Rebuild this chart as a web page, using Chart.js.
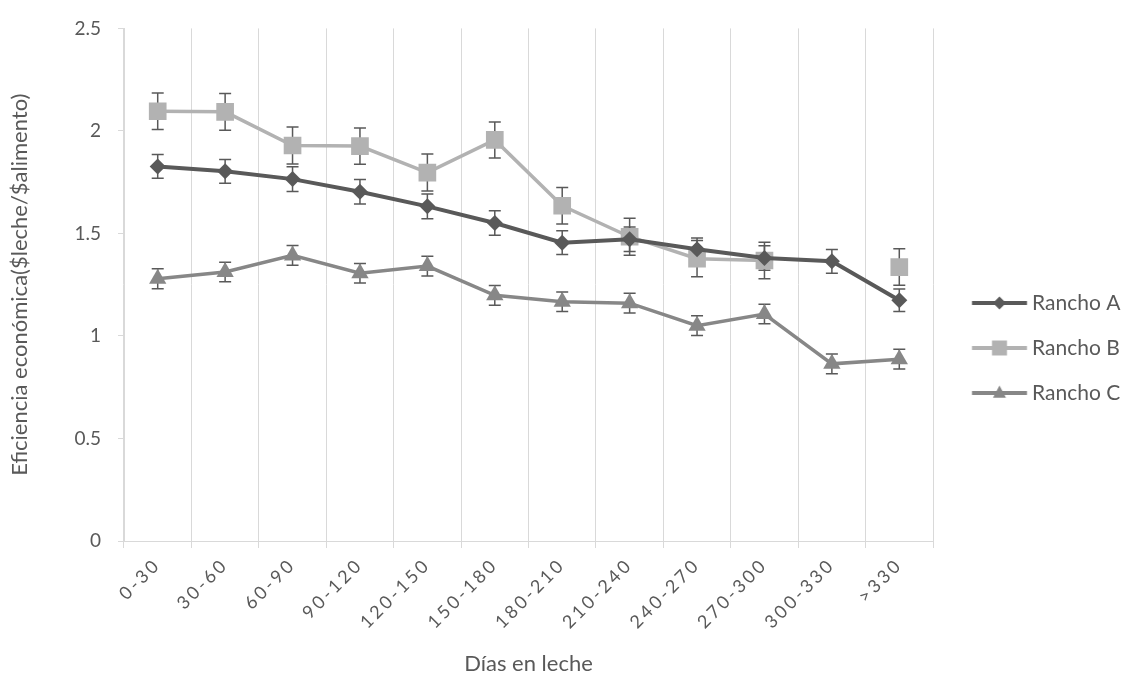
<!DOCTYPE html>
<html><head><meta charset="utf-8">
<script src="https://cdn.jsdelivr.net/npm/chart.js@4.4.0/dist/chart.umd.min.js"></script>
<style>html,body{margin:0;padding:0;background:#fff;}#wrap{width:1136px;height:688px;}</style>
</head><body><div id="wrap"><canvas id="c" width="1136" height="688"></canvas></div>
<script>
const categories = ['0-30','30-60','60-90','90-120','120-150','150-180','180-210','210-240','240-270','270-300','300-330','>330'];
const seriesNames = ['Rancho A','Rancho B','Rancho C'];
const ranchoA = [1.827, 1.803, 1.765, 1.703, 1.632, 1.551, 1.455, 1.472, 1.423, 1.380, 1.364, 1.174];
const ranchoB = [2.096, 2.093, 1.929, 1.926, 1.797, 1.956, 1.635, 1.484, 1.377, 1.368, null, 1.336];
const ranchoC = [1.279, 1.312, 1.393, 1.306, 1.341, 1.198, 1.167, 1.160, 1.050, 1.107, 0.864, 0.887];
const ranchoAErr = [0.058, 0.058, 0.060, 0.060, 0.060, 0.060, 0.058, 0.060, 0.055, 0.060, 0.058, 0.055];
const ranchoBErr = [0.089, 0.090, 0.090, 0.088, 0.090, 0.088, 0.089, 0.090, 0.088, 0.089, 0, 0.089];
const ranchoCErr = [0.049, 0.048, 0.048, 0.048, 0.048, 0.048, 0.048, 0.048, 0.048, 0.048, 0.048, 0.048];
const yTicks = [0, 0.5, 1, 1.5, 2, 2.5];
const yTitle = 'Eficiencia económica($leche/$alimento)';
const xTitle = 'Días en leche';

const COLORS = ['#595959', '#b2b2b2', '#878787'];
const STYLES = ['rectRot', 'rect', 'triangle'];
const RADII = [8, 12.5, 10];
const FONT = 'Lato';
const TXT = '#595959';
const GRID = '#d9d9d9';
const errors = [ranchoAErr, ranchoBErr, ranchoCErr];

// legend geometry
const LF = 21, LP = 24, LBW = 64.5;
function makeIcon(color, style) {
  const c = document.createElement('canvas');
  c.width = 80; c.height = 22;
  const g = c.getContext('2d');
  g.strokeStyle = color; g.lineWidth = 4;
  g.beginPath(); g.moveTo(22.75, 11); g.lineTo(77.75, 11); g.stroke();
  g.fillStyle = color;
  const mx = 50.25, my = 11;
  g.beginPath();
  if (style === 'rectRot') { const r = 6.5; g.moveTo(mx, my - r); g.lineTo(mx + r, my); g.lineTo(mx, my + r); g.lineTo(mx - r, my); }
  else if (style === 'rect') { const s = 7.5; g.rect(mx - s, my - s, 2 * s, 2 * s); }
  else { const r = 7.5; g.moveTo(mx, my - r); g.lineTo(mx + r * 0.866, my + r * 0.5 + 1); g.lineTo(mx - r * 0.866, my + r * 0.5 + 1); }
  g.closePath(); g.fill();
  return c;
}
const legendIcons = COLORS.map((c, i) => makeIcon(c, STYLES[i]));

// compute right padding so plot area ends at x≈933
const mctx = document.createElement('canvas').getContext('2d');
mctx.font = 'normal ' + LF + 'px ' + FONT;
const maxTextW = Math.max(...seriesNames.map(s => mctx.measureText(s).width));
const legendW = LP + LBW + LF / 2 + maxTextW + 10;
const padRight = Math.max(0, 1136 - 933 - legendW);

const errorBars = {
  id: 'errorBars',
  beforeDatasetsDraw(chart) {
    const ctx = chart.ctx, ys = chart.scales.y;
    chart.data.datasets.forEach((ds, di) => {
      const meta = chart.getDatasetMeta(di);
      meta.data.forEach((pt, i) => {
        const v = ds.data[i];
        if (v == null) return;
        const e = errors[di][i];
        const yt = ys.getPixelForValue(v + e), yb = ys.getPixelForValue(v - e);
        ctx.save();
        ctx.strokeStyle = '#595959'; ctx.lineWidth = 1.5;
        ctx.beginPath();
        ctx.moveTo(pt.x, yt); ctx.lineTo(pt.x, yb);
        ctx.moveTo(pt.x - 6, yt); ctx.lineTo(pt.x + 6, yt);
        ctx.moveTo(pt.x - 6, yb); ctx.lineTo(pt.x + 6, yb);
        ctx.stroke();
        ctx.restore();
      });
    });
  },
  afterDatasetsDraw(chart) { chart.ctx.letterSpacing = '3px'; },
  afterDraw(chart) { chart.ctx.letterSpacing = '0px'; }
};

const seriesData = [ranchoA, ranchoB, ranchoC];
const datasets = seriesData.map((d, i) => ({
  label: seriesNames[i],
  data: d,
  borderColor: COLORS[i],
  backgroundColor: COLORS[i],
  borderWidth: i === 0 ? 4 : 3.5,
  pointStyle: STYLES[i],
  pointRadius: RADII[i],
  pointHoverRadius: RADII[i],
  pointBorderWidth: 0,
  pointBackgroundColor: COLORS[i],
  tension: 0,
  spanGaps: false
}));

new Chart(document.getElementById('c'), {
  type: 'line',
  data: { labels: categories, datasets },
  plugins: [errorBars],
  options: {
    responsive: false,
    animation: false,
    devicePixelRatio: 1,
    layout: { padding: { top: 17, right: padRight, bottom: 9, left: 0 } },
    plugins: {
      tooltip: { enabled: false },
      legend: {
        position: 'right',
        align: 'center',
        labels: {
          usePointStyle: true,
          pointStyleWidth: LBW,
          padding: LP,
          color: TXT,
          font: { family: FONT, size: LF },
          generateLabels: (chart) => chart.data.datasets.map((ds, i) => ({
            text: ds.label, pointStyle: legendIcons[i], fillStyle: ds.borderColor,
            strokeStyle: ds.borderColor, lineWidth: 0, hidden: false, datasetIndex: i, fontColor: TXT
          }))
        }
      }
    },
    scales: {
      x: {
        offset: true,
        grid: { offset: true, color: GRID, lineWidth: 1, tickLength: 7, tickColor: GRID },
        border: { color: GRID },
        ticks: { minRotation: 45, maxRotation: 45, autoSkip: false, color: TXT, font: { family: FONT, size: 18 }, padding: 6, z: 1 },
        title: { display: true, text: xTitle, color: TXT, font: { family: FONT, size: 22 }, padding: { top: 4, bottom: 2 } },
        afterFit: (s) => { s.height = 138; }
      },
      y: {
        min: 0, max: 2.5,
        afterBuildTicks: (s) => { s.ticks = yTicks.map(v => ({ value: v })); },
        grid: { drawOnChartArea: false, color: GRID, tickLength: 6, tickColor: GRID },
        border: { color: GRID },
        ticks: { color: TXT, font: { family: FONT, size: 19 }, padding: 17, callback: (v) => String(v) },
        title: { display: true, text: yTitle, color: TXT, font: { family: FONT, size: 22 }, padding: { top: 7, bottom: 0 } },
        afterFit: (s) => { s.width = 124; }
      }
    }
  }
});
</script>
</body></html>
